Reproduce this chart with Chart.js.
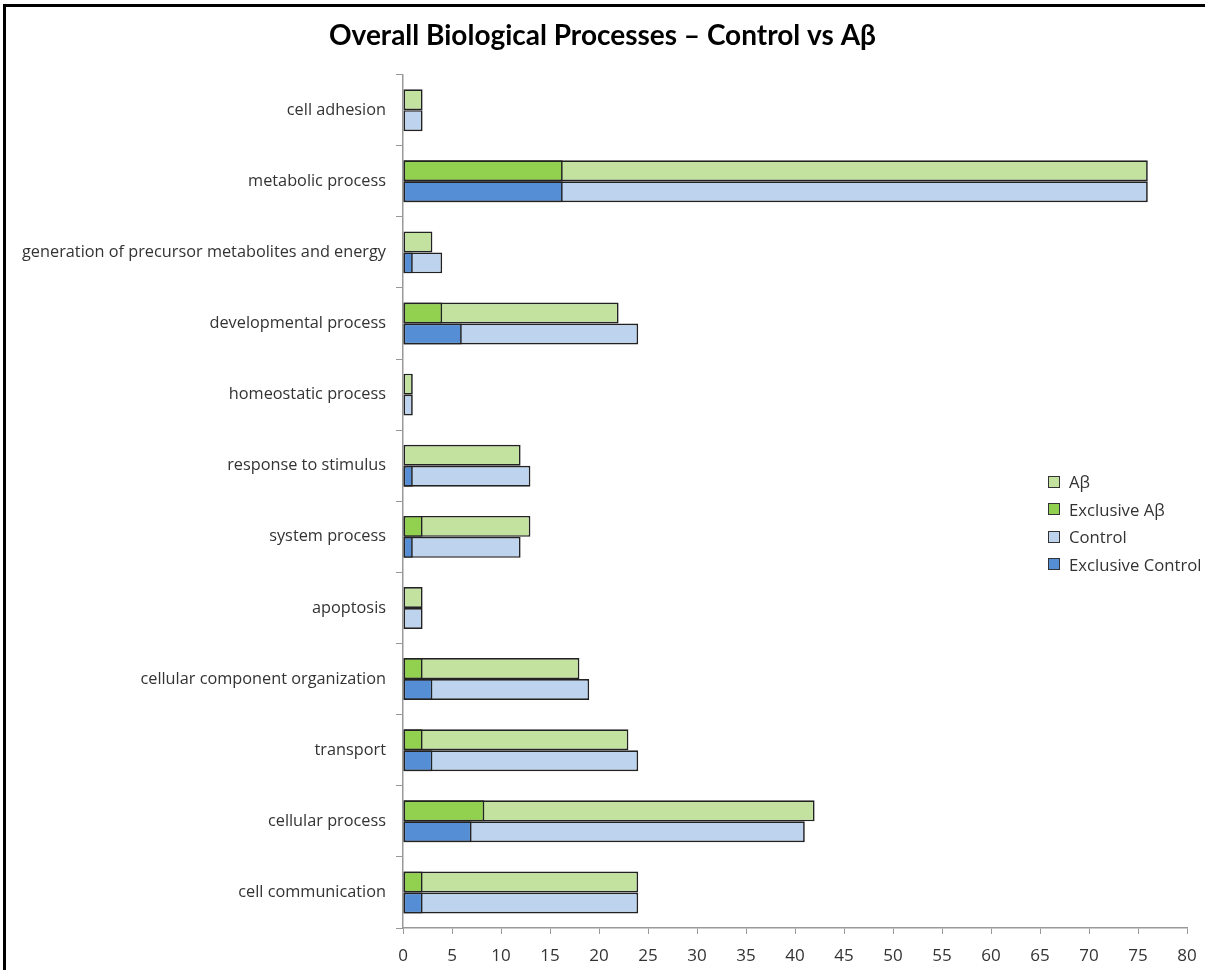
<!DOCTYPE html>
<html>
<head>
<meta charset="utf-8">
<script src="https://cdn.jsdelivr.net/npm/chart.js@4"></script>
<style>
  body { margin: 0; background: #fff; }
  #wrap { position: relative; width: 1205px; height: 970px; overflow: hidden; }
  #frame { position: absolute; left: 3px; top: 4px; width: 1210px; height: 980px;
           border-left: 3px solid #000; border-top: 3px solid #000; pointer-events: none; }
  #legend { position: absolute; left: 1048px; top: 468px; font-family: 'Open Sans', sans-serif;
            font-size: 16.7px; color: #333; }
  #legend div { height: 27.5px; display: flex; align-items: center; white-space: nowrap; }
  #legend span.box { width: 10px; height: 10px; border: 1.6px solid #333; margin-right: 9px; }
</style>
</head>
<body>
<div id="wrap">
  <canvas id="chart" width="1205" height="970"></canvas>
  <div id="frame"></div>
  <div id="legend"></div>
</div>
<script>
const categories = [
  'cell adhesion',
  'metabolic process',
  'generation of precursor metabolites and energy',
  'developmental process',
  'homeostatic process',
  'response to stimulus',
  'system process',
  'apoptosis',
  'cellular component organization',
  'transport',
  'cellular process',
  'cell communication'
];
const abTotal        = [2, 76, 3, 22, 1, 12, 13, 2, 18, 23, 42, 24];
const abExclusive    = [0, 16.3, 0, 4, 0, 0, 2, 0, 2, 2, 8.3, 2];
const controlTotal   = [2, 76, 4, 24, 1, 13, 12, 2, 19, 24, 41, 24];
const controlExclusive = [0, 16.3, 1, 6, 0, 1, 1, 0, 3, 3, 7, 2];
const xTicks = [0, 5, 10, 15, 20, 25, 30, 35, 40, 45, 50, 55, 60, 65, 70, 75, 80];

const border = '#222';
const font = "'Open Sans', sans-serif";

const chart = new Chart(document.getElementById('chart'), {
  type: 'bar',
  data: {
    labels: categories,
    datasets: [
      { label: 'Aβ', data: abTotal, stack: 'ab', order: 1, backgroundColor: '#c3e2a0' },
      { label: 'Exclusive Aβ', data: abExclusive, stack: 'ab', order: 0, backgroundColor: '#92d050' },
      { label: 'Control', data: controlTotal, stack: 'ctrl', order: 1, backgroundColor: '#bed3ee' },
      { label: 'Exclusive Control', data: controlExclusive, stack: 'ctrl', order: 0, backgroundColor: '#558ed5' }
    ].map((d) => ({ ...d, borderColor: border, borderWidth: 1.7, borderSkipped: false,
                    categoryPercentage: 0.59, barPercentage: 1 }))
  },
  options: {
    indexAxis: 'y',
    responsive: false,
    animation: false,
    layout: { padding: { left: 18, right: 18, top: 0, bottom: 0 } },
    plugins: {
      legend: { display: false },
      tooltip: { enabled: false },
      title: {
        display: true,
        text: 'Overall Biological Processes – Control vs Aβ',
        font: { family: 'Lato, sans-serif', size: 28, weight: 'bold' },
        color: '#000',
        padding: { top: 19, bottom: 22 }
      }
    },
    scales: {
      y: {
        stacked: true,
        afterFit: (scale) => { scale.width = 385; },
        grid: { drawOnChartArea: false, drawTicks: true, tickLength: 7, color: '#999', offset: true },
        border: { color: '#999', width: 1.5 },
        ticks: { color: '#333', font: { family: font, size: 16.3 }, padding: 10 }
      },
      x: {
        stacked: false,
        min: 0,
        max: 80,
        afterBuildTicks: (scale) => { scale.ticks = xTicks.map((v) => ({ value: v })); },
        afterFit: (scale) => { scale.height = 42; scale.paddingLeft = 0; scale.paddingRight = 0; },
        grid: { drawOnChartArea: false, drawTicks: true, tickLength: 6, color: '#999' },
        border: { color: '#999', width: 1.5 },
        ticks: { color: '#333', font: { family: font, size: 17 }, padding: 12, maxRotation: 0 }
      }
    }
  }
});

// legend in dataset order, laid over the plot like the original
const legend = document.getElementById('legend');
chart.data.datasets.forEach((d) => {
  const row = document.createElement('div');
  const box = document.createElement('span');
  box.className = 'box';
  box.style.background = d.backgroundColor;
  row.appendChild(box);
  row.appendChild(document.createTextNode(d.label));
  legend.appendChild(row);
});
</script>
</body>
</html>
